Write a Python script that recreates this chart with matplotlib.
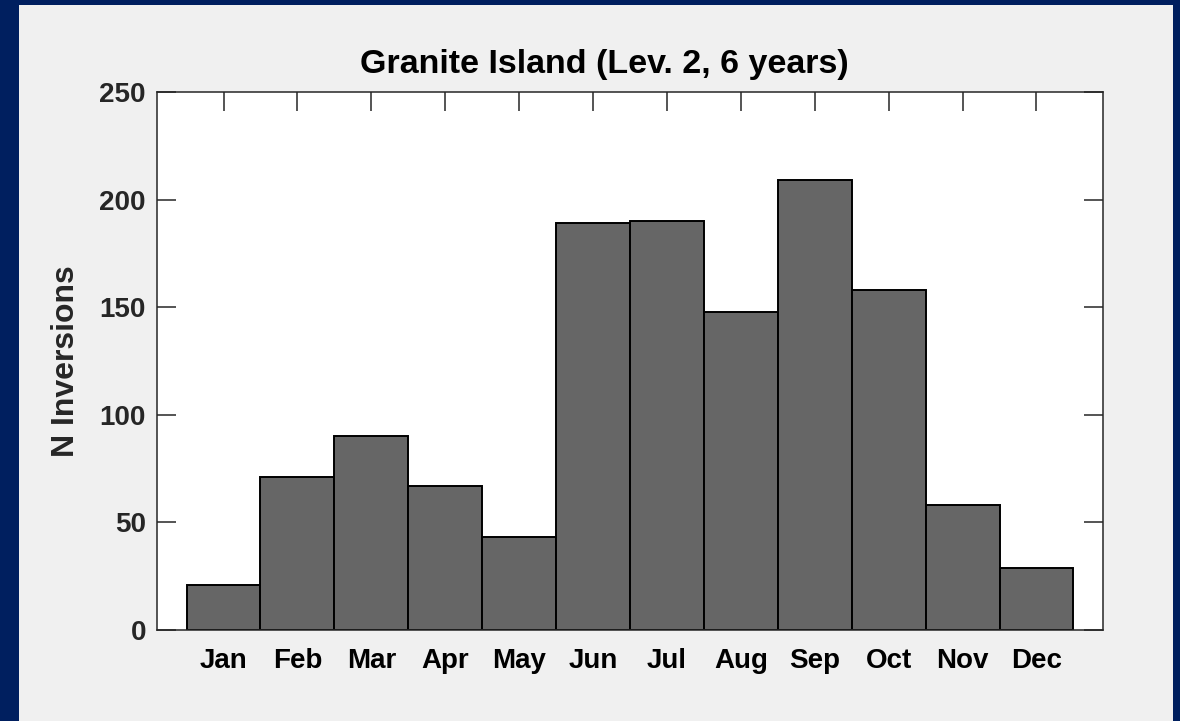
import matplotlib

matplotlib.use("Agg")
import matplotlib.pyplot as plt
from matplotlib.patches import Rectangle

months = ["Jan", "Feb", "Mar", "Apr", "May", "Jun", "Jul", "Aug", "Sep", "Oct", "Nov", "Dec"]
month_num = [1, 2, 3, 4, 5, 6, 7, 8, 9, 10, 11, 12]
counts = [21, 71, 90, 67, 43, 189, 190, 148, 209, 158, 58, 29]
y_ticks = [0, 50, 100, 150, 200, 250]

plt.rcParams["font.family"] = ["Liberation Sans", "DejaVu Sans"]
plt.rcParams["font.weight"] = "bold"

NAVY = "#001f5f"
PANEL = "#f0f0f0"
TEXT = "#262626"

fig = plt.figure(figsize=(11.8, 7.21), dpi=100, facecolor=NAVY)
# light grey panel inside the navy frame
fig.patches.append(Rectangle((19 / 1180, 0), (1173 - 19) / 1180, 716 / 721,
                             transform=fig.transFigure, facecolor=PANEL,
                             edgecolor="none", zorder=-5))

ax = fig.add_axes([157 / 1180, 91 / 721, 946 / 1180, 538 / 721])
ax.set_zorder(2)
ax.set_facecolor("white")
ax.bar(month_num, counts, width=1.0, color="#666666", edgecolor="black", linewidth=1.4, zorder=2)

ax.set_xlim(0.1, 12.9)
ax.set_ylim(0, 250)
ax.set_xticks(month_num)
ax.set_xticklabels(months)
ax.set_yticks(y_ticks)
ax.tick_params(axis="both", direction="in", length=13.5, width=1.1, color=TEXT,
               labelsize=20, labelcolor="black", top=True, right=True)
ax.tick_params(axis="x", pad=13)
ax.tick_params(axis="y", labelcolor=TEXT, pad=8)
for sp in ax.spines.values():
    sp.set_linewidth(1.1)
    sp.set_color(TEXT)
    sp.set_zorder(3)

ax.set_ylabel("N Inversions", fontsize=23, fontweight="bold", color=TEXT, labelpad=13)
ax.set_title("Granite Island (Lev. 2, 6 years)", fontsize=24.5, fontweight="bold",
             color="black", x=0.4725, pad=14)

fig.savefig("out.png", dpi=100, facecolor=NAVY)
plt.close(fig)
